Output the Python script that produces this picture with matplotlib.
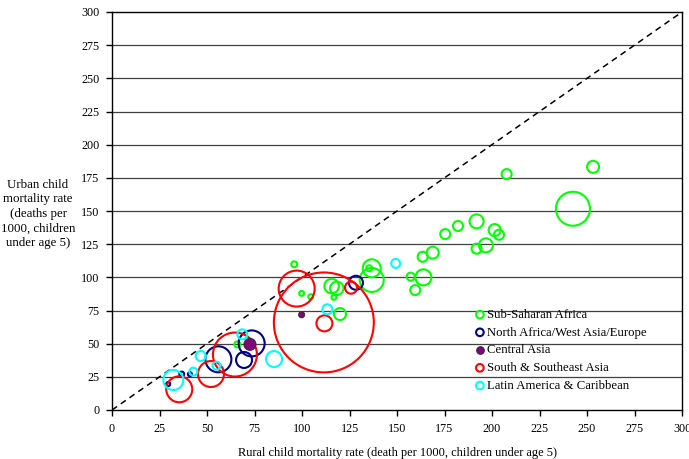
import matplotlib

matplotlib.use("Agg")
import matplotlib.pyplot as plt

# 地域ごとのデータ (rural, urban, 人口相当のバブルサイズ)
ssa_rural = [207.7, 253.2, 242.6, 191.9, 182.1, 175.4, 201.4, 203.7, 196.8, 191.9, 168.8, 163.5, 163.9,
             157.2, 159.6, 136.7, 136.7, 135.4, 115.6, 118.3, 116.8, 120.0, 95.9, 99.8, 104.6, 66.0]
ssa_urban = [177.8, 183.3, 151.7, 142.2, 138.7, 132.6, 135.6, 132.1, 124.1, 121.6, 118.6, 115.5, 100.0,
             100.5, 90.4, 98.0, 106.8, 106.8, 93.4, 91.7, 84.9, 72.3, 109.8, 87.9, 85.4, 49.5]
ssa_pop = [25, 36, 289, 49, 25, 25, 36, 25, 49, 25, 36, 25, 64,
           16, 25, 144, 81, 9, 53, 45, 6, 36, 9, 6, 6, 9]

nawa_rural = [29.6, 36.7, 41.0, 56.0, 69.5, 73.5, 128.4]
nawa_urban = [19.6, 27.1, 27.0, 38.2, 37.7, 50.2, 95.9]
nawa_pop = [4, 6, 4, 169, 64, 169, 49]

ca_rural = [72.6, 99.8]
ca_urban = [49.5, 71.8]
ca_pop = [36, 9]

ssea_rural = [35.4, 52.1, 64.7, 97.2, 111.5, 111.8, 125.8]
ssea_urban = [15.6, 27.1, 41.8, 91.5, 66.0, 65.3, 92.2]
ssea_pop = [169, 169, 484, 324, 2500, 64, 36]

lac_rural = [32.3, 42.8, 46.7, 55.0, 68.6, 85.3, 113.3, 149.3]
lac_urban = [22.6, 28.9, 40.7, 33.4, 57.0, 38.4, 75.9, 110.5]
lac_pop = [100, 16, 25, 16, 25, 64, 25, 20]

regions = [
    ("Sub-Saharan Africa", ssa_rural, ssa_urban, ssa_pop, "#00ff00", False),
    ("North Africa/West Asia/Europe", nawa_rural, nawa_urban, nawa_pop, "#000080", False),
    ("Central Asia", ca_rural, ca_urban, ca_pop, "#800080", True),
    ("South & Southeast Asia", ssea_rural, ssea_urban, ssea_pop, "#ff0000", False),
    ("Latin America & Caribbean", lac_rural, lac_urban, lac_pop, "#00ffff", False),
]

plt.rcParams["font.family"] = ["Liberation Serif", "DejaVu Serif"]

fig = plt.figure(figsize=(6.89, 4.59), dpi=100)
ax = fig.add_axes([112 / 689, 49 / 459, 570 / 689, 398 / 459])

# 横グリッド
for yv in range(25, 300, 25):
    ax.axhline(yv, color="#404040", lw=0.9, zorder=0)

# 45度線
ax.plot([0, 300], [0, 300], color="black", ls=(0, (4, 3)), lw=1.1, zorder=1)

# バブル (面積 ∝ 人口)
for name, xs, ys, pop, color, filled in regions:
    sizes = [2.07 * p for p in pop]
    if filled:
        ax.scatter(xs, ys, s=sizes, facecolor=color, edgecolor="#333333", lw=0.8, zorder=3)
    else:
        ax.scatter(xs, ys, s=sizes, facecolor="none", edgecolor=color, lw=1.5, zorder=2)

# 凡例
handles = []
for name, xs, ys, pop, color, filled in regions:
    h = ax.scatter([], [], s=30, facecolor=color if filled else "none",
                   edgecolor="#333333" if filled else color, lw=1.5 if not filled else 0.8)
    handles.append(h)
ax.legend(handles, [r[0] for r in regions], loc="upper left", bbox_to_anchor=(0.623, 0.27),
          frameon=False, fontsize=9.2, handletextpad=0.05, labelspacing=0.45, borderpad=0,
          handlelength=1.0)

ax.set_xlim(0, 300)
ax.set_ylim(0, 300)
ax.set_xticks(range(0, 301, 25))
ax.set_yticks(range(0, 301, 25))
ax.tick_params(direction="out", length=4, width=1, labelsize=8.7, pad=5)
for sp in ax.spines.values():
    sp.set_linewidth(1)

ax.set_xlabel("Rural child mortality rate (death per 1000, children under age 5)", fontsize=8.9, labelpad=9)
fig.text(38 / 689, 1 - 214 / 459, "Urban child\nmortality rate\n(deaths per\n1000, children\nunder age 5)",
         ha="center", va="center", fontsize=9.3, linespacing=1.3)

fig.savefig("out.png", dpi=100)
plt.close(fig)
